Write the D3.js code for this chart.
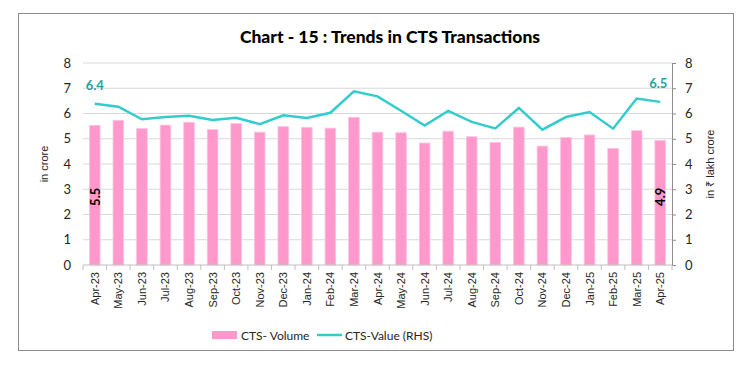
<!DOCTYPE html>
<html>
<head>
<meta charset="utf-8">
<script src="https://cdn.jsdelivr.net/npm/d3@7"></script>
<style>
  body { margin: 0; background: #fff; }
  svg { display: block; }
</style>
</head>
<body>
<div id="chart"></div>
<script>
// months on the x axis
var months = ['Apr-23','May-23','Jun-23','Jul-23','Aug-23','Sep-23','Oct-23','Nov-23','Dec-23',
  'Jan-24','Feb-24','Mar-24','Apr-24','May-24','Jun-24','Jul-24','Aug-24','Sep-24','Oct-24',
  'Nov-24','Dec-24','Jan-25','Feb-25','Mar-25','Apr-25'];
// CTS volume, in crore (bars, left axis)
var volume = [5.53,5.73,5.40,5.54,5.65,5.37,5.60,5.26,5.48,5.45,5.42,5.85,5.26,5.24,4.83,
  5.30,5.08,4.85,5.46,4.71,5.05,5.15,4.62,5.32,4.93];
// CTS value, in lakh crore (line, right axis)
var value = [6.39,6.27,5.77,5.86,5.91,5.74,5.83,5.58,5.93,5.82,6.03,6.88,6.68,6.11,5.52,
  6.10,5.67,5.41,6.22,5.36,5.86,6.06,5.40,6.59,6.46];
var yTicks = [0,1,2,3,4,5,6,7,8];

var width = 743, height = 373;
var margin = {top: 63, right: 71, bottom: 108, left: 83};
var barColor = '#ff99cc', lineColor = '#33cccc';

var svg = d3.select('#chart').append('svg')
  .attr('width', width)
  .attr('height', height);

// outer frame
svg.append('rect')
  .attr('x', 18.5).attr('y', 13.5)
  .attr('width', 715).attr('height', 337)
  .attr('fill', 'none')
  .attr('stroke', '#8c8c8c');

svg.append('text')
  .attr('x', 390).attr('y', 43)
  .attr('text-anchor', 'middle')
  .style('font-family', 'Lato, sans-serif')
  .style('font-weight', '900')
  .style('font-size', '17.5px')
  .text('Chart - 15 : Trends in CTS Transactions');

var x = d3.scaleBand()
  .domain(months)
  .range([margin.left, width - margin.right])
  .paddingInner(0.55)
  .paddingOuter(0.275);

var yL = d3.scaleLinear().domain([0, 8]).range([height - margin.bottom, margin.top]);
var yR = d3.scaleLinear().domain([0, 8]).range([height - margin.bottom, margin.top]);

// gridlines
svg.append('g')
  .selectAll('line')
  .data(yTicks.slice(1))
  .enter().append('line')
  .attr('x1', margin.left).attr('x2', width - margin.right)
  .attr('y1', function(d) { return yL(d); })
  .attr('y2', function(d) { return yL(d); })
  .attr('stroke', '#d9d9d9');

// bars
svg.append('g')
  .selectAll('rect')
  .data(volume)
  .enter().append('rect')
  .attr('x', function(d, i) { return x(months[i]); })
  .attr('y', function(d) { return yL(d); })
  .attr('width', x.bandwidth())
  .attr('height', function(d) { return yL(0) - yL(d); })
  .attr('fill', barColor)
  .attr('stroke', '#ffc2df')
  .attr('stroke-width', 0.8);

// left axis (labels only)
var leftAxis = svg.append('g')
  .attr('transform', 'translate(' + margin.left + ',0)')
  .call(d3.axisLeft(yL).tickValues(yTicks).tickSize(0).tickPadding(12));
leftAxis.select('.domain').remove();

// right axis
var rightAxis = svg.append('g')
  .attr('transform', 'translate(' + (width - margin.right) + ',0)')
  .call(d3.axisRight(yR).tickValues(yTicks).tickSize(4).tickSizeOuter(0).tickPadding(9));
rightAxis.select('.domain').attr('stroke', '#8c8c8c');
rightAxis.selectAll('.tick line').attr('stroke', '#8c8c8c');

[leftAxis, rightAxis].forEach(function(a) {
  a.selectAll('text')
    .style('font-family', 'Lato, sans-serif')
    .style('font-size', '13px')
    .attr('fill', '#262626');
});

// x axis with tick marks between categories
var xg = svg.append('g')
  .attr('transform', 'translate(0,' + yL(0) + ')');
xg.append('line')
  .attr('x1', margin.left).attr('x2', width - margin.right)
  .attr('stroke', '#bfbfbf');
xg.selectAll('.sep')
  .data(d3.range(months.length + 1))
  .enter().append('line')
  .attr('x1', function(i) { return margin.left + i * x.step(); })
  .attr('x2', function(i) { return margin.left + i * x.step(); })
  .attr('y1', 0).attr('y2', 5)
  .attr('stroke', '#bfbfbf');
xg.selectAll('.lbl')
  .data(months)
  .enter().append('text')
  .attr('transform', function(d) {
    return 'translate(' + (x(d) + x.bandwidth() / 2 + 4) + ',7) rotate(-90)';
  })
  .attr('text-anchor', 'end')
  .style('font-family', 'Liberation Sans, Arial, sans-serif')
  .style('font-size', '11px')
  .attr('fill', '#262626')
  .text(function(d) { return d; });

// line
var line = d3.line()
  .x(function(d, i) { return x(months[i]) + x.bandwidth() / 2; })
  .y(function(d) { return yR(d); });
svg.append('path')
  .datum(value)
  .attr('d', line)
  .attr('fill', 'none')
  .attr('stroke', lineColor)
  .attr('stroke-width', 2.5);

// data labels
var last = months.length - 1;
svg.append('text')
  .attr('x', x(months[0]) + x.bandwidth() / 2)
  .attr('y', yR(value[0]) - 14)
  .attr('text-anchor', 'middle')
  .style('font-family', 'Lato, sans-serif')
  .style('font-weight', 'bold')
  .style('font-size', '13px')
  .attr('fill', '#21a3a3')
  .text(d3.format('.1f')(value[0]));
svg.append('text')
  .attr('x', x(months[last]) + x.bandwidth() / 2 - 2)
  .attr('y', yR(value[last]) - 14)
  .attr('text-anchor', 'middle')
  .style('font-family', 'Lato, sans-serif')
  .style('font-weight', 'bold')
  .style('font-size', '13px')
  .attr('fill', '#21a3a3')
  .text(d3.format('.1f')(value[last]));

[0, last].forEach(function(i) {
  svg.append('text')
    .attr('transform', 'translate(' + (x(months[i]) + x.bandwidth() / 2 + 5) + ',' + yL(2.7) + ') rotate(-90)')
    .attr('text-anchor', 'middle')
    .style('font-family', 'Lato, sans-serif')
    .style('font-weight', 'bold')
    .style('font-size', '13px')
    .attr('fill', '#000')
    .text(d3.format('.1f')(volume[i]));
});

// axis titles
svg.append('text')
  .attr('transform', 'translate(48,' + yL(4) + ') rotate(-90)')
  .attr('text-anchor', 'middle')
  .style('font-family', 'Liberation Sans, Arial, sans-serif')
  .style('font-size', '11px')
  .attr('fill', '#262626')
  .text('in crore');
svg.append('text')
  .attr('transform', 'translate(714,' + yL(4) + ') rotate(-90)')
  .attr('text-anchor', 'middle')
  .style('font-family', 'Liberation Sans, Arial, sans-serif')
  .style('font-size', '11px')
  .attr('fill', '#262626')
  .text('in ₹ lakh crore');

// legend
var legend = svg.append('g');
legend.append('rect')
  .attr('x', 212).attr('y', 331)
  .attr('width', 25).attr('height', 8)
  .attr('fill', barColor);
legend.append('text')
  .attr('x', 241).attr('y', 340)
  .style('font-family', 'Lato, sans-serif')
  .style('font-size', '12px')
  .attr('fill', '#262626')
  .text('CTS- Volume');
legend.append('line')
  .attr('x1', 317).attr('x2', 342)
  .attr('y1', 335).attr('y2', 335)
  .attr('stroke', lineColor)
  .attr('stroke-width', 2.5);
legend.append('text')
  .attr('x', 345).attr('y', 340)
  .style('font-family', 'Lato, sans-serif')
  .style('font-size', '12px')
  .attr('fill', '#262626')
  .text('CTS-Value (RHS)');
</script>
</body>
</html>
